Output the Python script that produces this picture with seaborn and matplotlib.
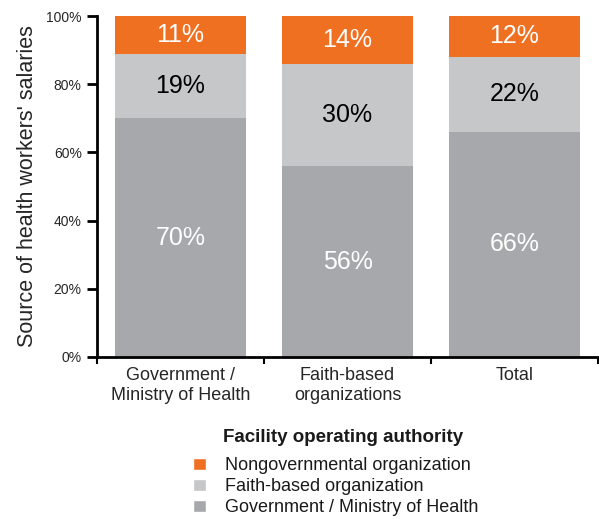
import numpy as np
import pandas as pd
import matplotlib
matplotlib.use("Agg")
import matplotlib.pyplot as plt
import seaborn as sns
from matplotlib.patches import Patch

categories = ["Government /\nMinistry of Health", "Faith-based\norganizations", "Total"]
gov = [70, 56, 66]
faith = [19, 30, 22]
ngo = [11, 14, 12]
series_names = ["Nongovernmental organization", "Faith-based organization",
                "Government / Ministry of Health"]
colors = {"gov": "#a7a8ab", "faith": "#c6c7c9", "ngo": "#f07022"}

sns.set_style("white")
plt.rcParams["font.family"] = ["Liberation Sans", "DejaVu Sans"]

fig = plt.figure(figsize=(5.99, 5.19), dpi=100)
ax = fig.add_axes([97 / 599, 1 - 357 / 519, 501 / 599, 341 / 519])

df = pd.DataFrame({"cat": categories, "gov": gov, "faith": faith, "ngo": ngo})
df["faith_top"] = df["gov"] + df["faith"]
df["ngo_top"] = df["faith_top"] + df["ngo"]

# stacked by drawing cumulative heights back to front
sns.barplot(data=df, x="cat", y="ngo_top", color=colors["ngo"], width=0.78,
            saturation=1, ax=ax, linewidth=0)
sns.barplot(data=df, x="cat", y="faith_top", color=colors["faith"], width=0.78,
            saturation=1, ax=ax, linewidth=0)
sns.barplot(data=df, x="cat", y="gov", color=colors["gov"], width=0.78,
            saturation=1, ax=ax, linewidth=0)

for i, row in df.iterrows():
    ax.text(i, row["gov"] / 2, f"{row['gov']}%", ha="center", va="center",
            color="white", fontsize=18)
    ax.text(i, row["gov"] + row["faith"] / 2, f"{row['faith']}%", ha="center",
            va="center", color="black", fontsize=18)
    ax.text(i, row["faith_top"] + row["ngo"] / 2, f"{row['ngo']}%", ha="center",
            va="center", color="white", fontsize=18)

ax.set_ylim(0, 100)
ax.set_xlim(-0.5, 2.5)
ax.set_yticks([0, 20, 40, 60, 80, 100])
ax.set_yticklabels([f"{v}%" for v in [0, 20, 40, 60, 80, 100]], fontsize=10)
ax.set_xlabel("")
ax.set_ylabel("Source of health workers' salaries", fontsize=15.5, labelpad=6)
ax.tick_params(axis="x", length=0, labelsize=13, pad=7)
ax.set_xticks([-0.5, 0.5, 1.5, 2.5], minor=True)
ax.tick_params(axis="x", which="minor", length=5, width=1.5, color="black", direction="out")
ax.tick_params(axis="y", length=7, width=2, color="black", direction="out", pad=4)
ax.xaxis.set_tick_params(which="minor", bottom=True)
ax.yaxis.set_tick_params(left=True)
for lbl in ax.get_xticklabels():
    lbl.set_linespacing(1.25)

sns.despine(ax=ax)
for s in ["left", "bottom"]:
    ax.spines[s].set_linewidth(2)
    ax.spines[s].set_color("black")

fig.text(343 / 599, 1 - 437 / 519, "Facility operating authority", ha="center",
         va="center", fontsize=13.5, fontweight="bold", color="#1a1a1a")
handles = [Patch(facecolor=colors["ngo"]), Patch(facecolor=colors["faith"]),
           Patch(facecolor=colors["gov"])]
leg = fig.legend(handles, series_names, loc="upper left",
                 bbox_to_anchor=(177 / 599, 1 - 441 / 519), frameon=False,
                 fontsize=13, handlelength=0.7, handleheight=0.7,
                 handletextpad=1.05, labelspacing=0.22)
for t in leg.get_texts():
    t.set_color("#1a1a1a")

fig.savefig("out.png", dpi=100)
